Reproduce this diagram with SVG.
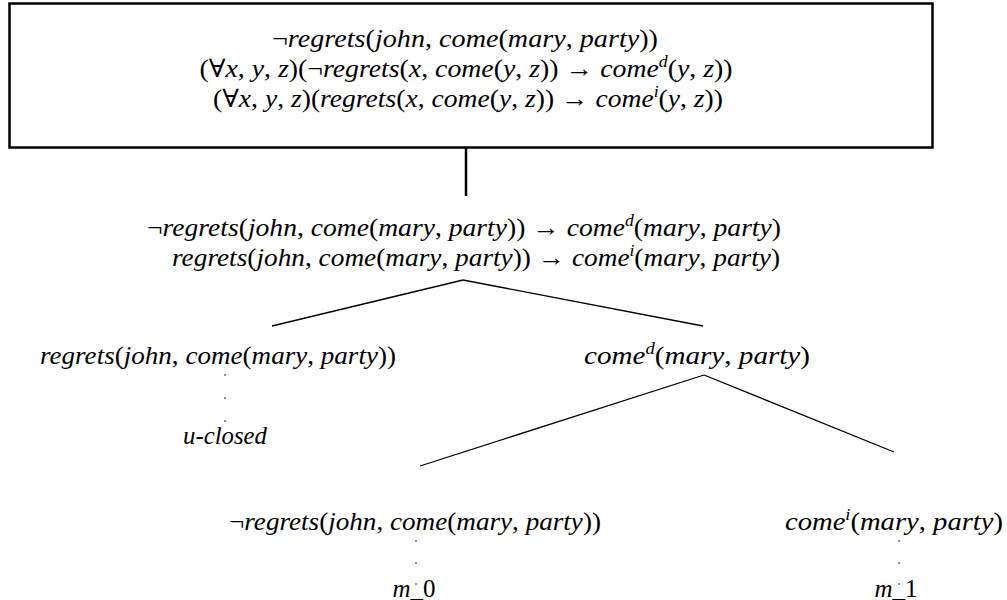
<svg xmlns="http://www.w3.org/2000/svg" width="1007" height="600" viewBox="0 0 1007 600">
<style>
.t{font-family:"Liberation Serif","DejaVu Serif",serif;font-size:25px;font-style:italic;fill:#000;text-anchor:middle}
.u{font-style:normal}
.s{font-size:16px}
.ln{stroke:#000;stroke-width:1.3;fill:none}
.dot{fill:#000}
</style>
<rect width="1007" height="600" fill="#fff"/>
<g id="premises">
<rect x="9.5" y="3.5" width="923" height="144" fill="none" stroke="#000" stroke-width="2.5"/>
<text class="t" x="465" y="47" textLength="386" lengthAdjust="spacingAndGlyphs"><tspan class="u">¬</tspan>regrets<tspan class="u">(</tspan>john<tspan class="u">, </tspan>come<tspan class="u">(</tspan>mary<tspan class="u">, </tspan>party<tspan class="u">))</tspan></text>
<text class="t" x="466" y="77" textLength="533" lengthAdjust="spacingAndGlyphs"><tspan class="u">(∀</tspan>x<tspan class="u">, </tspan>y<tspan class="u">, </tspan>z<tspan class="u">)(¬</tspan>regrets<tspan class="u">(</tspan>x<tspan class="u">, </tspan>come<tspan class="u">(</tspan>y<tspan class="u">, </tspan>z<tspan class="u">)) → </tspan>come<tspan class="s" dy="-10">d</tspan><tspan class="u" dy="10">(</tspan>y<tspan class="u">, </tspan>z<tspan class="u">))</tspan></text>
<text class="t" x="468" y="107" textLength="510" lengthAdjust="spacingAndGlyphs"><tspan class="u">(∀</tspan>x<tspan class="u">, </tspan>y<tspan class="u">, </tspan>z<tspan class="u">)(</tspan>regrets<tspan class="u">(</tspan>x<tspan class="u">, </tspan>come<tspan class="u">(</tspan>y<tspan class="u">, </tspan>z<tspan class="u">)) → </tspan>come<tspan class="s" dy="-10">i</tspan><tspan class="u" dy="10">(</tspan>y<tspan class="u">, </tspan>z<tspan class="u">))</tspan></text>
</g>
<g id="instances">
<text class="t" x="464" y="236" textLength="634" lengthAdjust="spacingAndGlyphs"><tspan class="u">¬</tspan>regrets<tspan class="u">(</tspan>john<tspan class="u">, </tspan>come<tspan class="u">(</tspan>mary<tspan class="u">, </tspan>party<tspan class="u">)) → </tspan>come<tspan class="s" dy="-10">d</tspan><tspan class="u" dy="10">(</tspan>mary<tspan class="u">, </tspan>party<tspan class="u">)</tspan></text>
<text class="t" x="476" y="266" textLength="608" lengthAdjust="spacingAndGlyphs">regrets<tspan class="u">(</tspan>john<tspan class="u">, </tspan>come<tspan class="u">(</tspan>mary<tspan class="u">, </tspan>party<tspan class="u">)) → </tspan>come<tspan class="s" dy="-10">i</tspan><tspan class="u" dy="10">(</tspan>mary<tspan class="u">, </tspan>party<tspan class="u">)</tspan></text>
</g>
<g id="left-branch">
<text class="t" x="218" y="364" textLength="356" lengthAdjust="spacingAndGlyphs">regrets<tspan class="u">(</tspan>john<tspan class="u">, </tspan>come<tspan class="u">(</tspan>mary<tspan class="u">, </tspan>party<tspan class="u">))</tspan></text>
<circle class="dot" cx="225" cy="375" r="0.8"/>
<circle class="dot" cx="225" cy="398" r="0.8"/>
<circle class="dot" cx="225" cy="421" r="0.8"/>
<text class="t" x="225" y="444" textLength="84" lengthAdjust="spacingAndGlyphs">u-closed</text>
</g>
<g id="right-branch">
<text class="t" x="697" y="364" textLength="226" lengthAdjust="spacingAndGlyphs">come<tspan class="s" dy="-10">d</tspan><tspan class="u" dy="10">(</tspan>mary<tspan class="u">, </tspan>party<tspan class="u">)</tspan></text>
</g>
<g id="not-regrets">
<text class="t" x="415" y="530" textLength="372" lengthAdjust="spacingAndGlyphs"><tspan class="u">¬</tspan>regrets<tspan class="u">(</tspan>john<tspan class="u">, </tspan>come<tspan class="u">(</tspan>mary<tspan class="u">, </tspan>party<tspan class="u">))</tspan></text>
<circle class="dot" cx="416" cy="541" r="0.8"/>
<circle class="dot" cx="416" cy="563" r="0.8"/>
<circle class="dot" cx="416" cy="584" r="0.8"/>
<text class="t" x="414" y="597">m<tspan class="u">_0</tspan></text>
</g>
<g id="come-i">
<text class="t" x="894" y="530" textLength="218" lengthAdjust="spacingAndGlyphs">come<tspan class="s" dy="-10">i</tspan><tspan class="u" dy="10">(</tspan>mary<tspan class="u">, </tspan>party<tspan class="u">)</tspan></text>
<circle class="dot" cx="899" cy="541" r="0.8"/>
<circle class="dot" cx="899" cy="563" r="0.8"/>
<circle class="dot" cx="899" cy="584" r="0.8"/>
<text class="t" x="896" y="597">m<tspan class="u">_1</tspan></text>
</g>
<g id="connectors">
<line x1="466" y1="148" x2="466" y2="196" stroke="#000" stroke-width="2.5"/>
<line class="ln" x1="463" y1="280" x2="272" y2="326"/>
<line class="ln" x1="463" y1="280" x2="703" y2="326"/>
<line class="ln" x1="704" y1="375" x2="420" y2="466"/>
<line class="ln" x1="704" y1="375" x2="894" y2="452"/>
</g>
</svg>
